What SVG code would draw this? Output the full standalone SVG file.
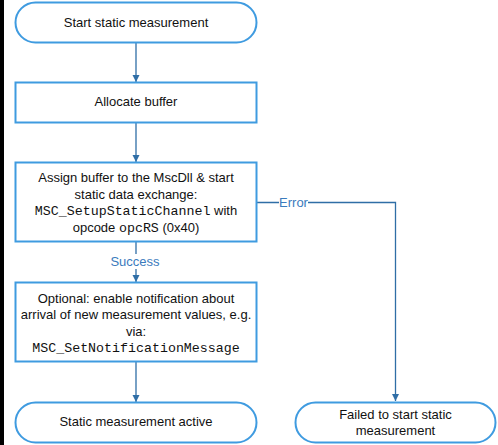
<svg xmlns="http://www.w3.org/2000/svg" width="498" height="445" viewBox="0 0 498 445">
<defs>
<style>
.node{fill:#fff;stroke:#3f9be0;stroke-width:2}
.t{font-family:"Liberation Sans",Arial,sans-serif;font-size:13px;fill:#111;text-anchor:middle}
.m{font-family:"Liberation Mono","Courier New",monospace;font-size:13.3px}
.c{fill:none;stroke:#2f6ea6;stroke-width:1.3}
.lbl{font-family:"Liberation Sans",Arial,sans-serif;font-size:13px;fill:#3b7bbd;text-anchor:middle}
</style>
<marker id="ah" markerWidth="8" markerHeight="8" refX="7" refY="4" orient="auto" markerUnits="userSpaceOnUse">
<path d="M0,0.5 L7,4 L0,7.5 Z" fill="#2f6ea6"/>
</marker>
</defs>
<rect x="0" y="0" width="498" height="445" fill="#fff"/>
<rect x="0" y="0" width="4" height="445" fill="#000"/>
<g id="connectors">
<path class="c" d="M136,43 V82" marker-end="url(#ah)"/>
<path class="c" d="M136,123 V162" marker-end="url(#ah)"/>
<path class="c" d="M136,242 V282" marker-end="url(#ah)"/>
<path class="c" d="M136,362 V402" marker-end="url(#ah)"/>
<path class="c" d="M257,202.5 H395.5 V401" marker-end="url(#ah)"/>
<rect x="279" y="195" width="29" height="15" fill="#fff"/>
<text class="lbl" x="293.5" y="207">Error</text>
<rect x="110" y="254" width="50" height="15" fill="#fff"/>
<text class="lbl" x="135" y="266">Success</text>
</g>
<g id="start">
<rect class="node" x="15.5" y="2.5" width="241" height="40" rx="20"/>
<text class="t" x="136" y="26.5">Start static measurement</text>
</g>
<g id="allocate">
<rect class="node" x="15.5" y="82.5" width="241" height="40"/>
<text class="t" x="136" y="106">Allocate buffer</text>
</g>
<g id="assign">
<rect class="node" x="15.5" y="162.5" width="241" height="79"/>
<text class="t" x="136" y="181.5">Assign buffer to the MscDll &amp; start</text>
<text class="t" x="136" y="198.5">static data exchange:</text>
<text class="t" x="136" y="215"><tspan class="m">MSC_SetupStaticChannel</tspan> with</text>
<text class="t" x="136" y="231.5">opcode <tspan class="m">opcRS</tspan> (0x40)</text>
</g>
<g id="optional">
<rect class="node" x="15.5" y="282.5" width="241" height="79"/>
<text class="t" x="136" y="302.5">Optional: enable notification about</text>
<text class="t" x="136" y="319">arrival of new measurement values, e.g.</text>
<text class="t" x="136" y="335.5">via:</text>
<text class="t" x="136" y="351.5"><tspan class="m">MSC_SetNotificationMessage</tspan></text>
</g>
<g id="active">
<rect class="node" x="15.5" y="402.5" width="241" height="40" rx="20"/>
<text class="t" x="136" y="426">Static measurement active</text>
</g>
<g id="failed">
<rect class="node" x="295.5" y="402.5" width="200" height="40" rx="20"/>
<text class="t" x="395.5" y="418.5">Failed to start static</text>
<text class="t" x="395.5" y="434.5">measurement</text>
</g>
</svg>
